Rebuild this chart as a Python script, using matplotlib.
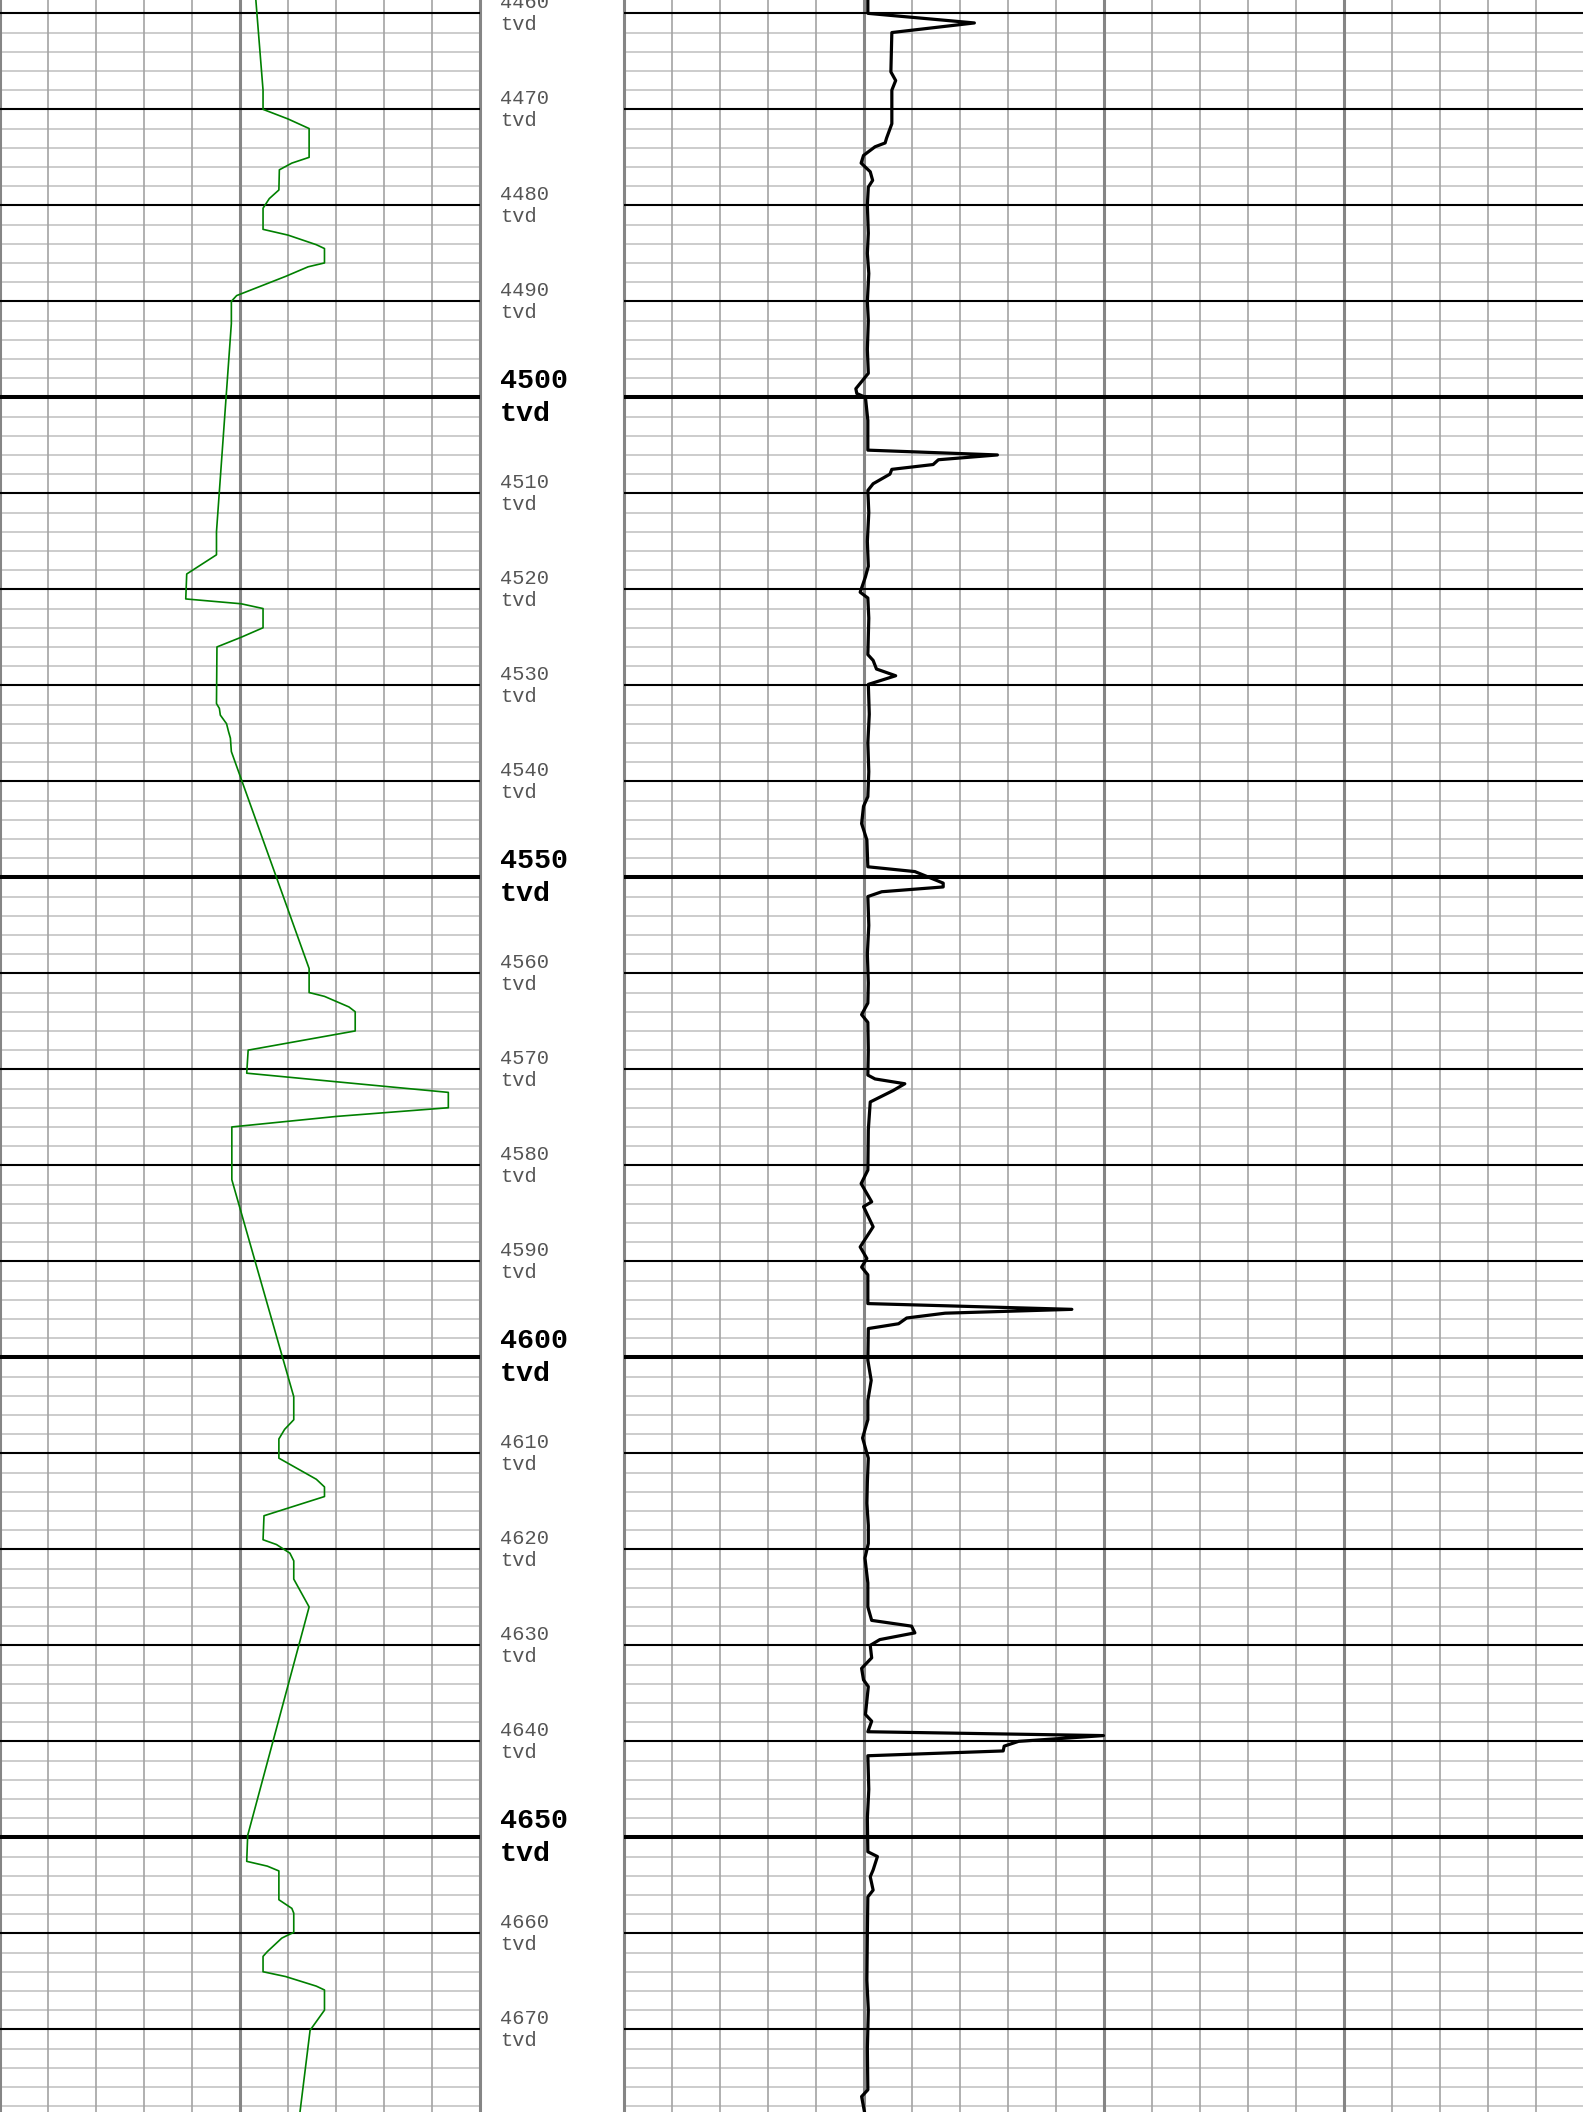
import numpy as np
import matplotlib
matplotlib.use('Agg')
import matplotlib.pyplot as plt

# green curve, left track (value in chart divisions, 0-10)
gr_depth = [4458.6, 4468.0, 4470.0, 4471.0, 4472.0, 4475.0, 4475.6, 4476.3, 4478.4, 4479.3,
            4480.3, 4482.5, 4483.1, 4484.1, 4484.5, 4486.0, 4486.4, 4487.4, 4489.4, 4490.0,
            4492.3, 4514.0, 4516.4, 4518.4, 4521.0, 4521.5, 4522.0, 4524.0, 4525.0, 4526.0,
            4531.9, 4532.4, 4533.1, 4534.0, 4534.8, 4535.5, 4536.9, 4559.5, 4562.0, 4562.4,
            4563.5, 4564.0, 4566.0, 4568.0, 4570.4, 4571.3, 4572.4, 4574.0, 4574.9, 4576.0,
            4581.5, 4604.1, 4606.5, 4607.5, 4608.5, 4610.5, 4612.7, 4613.5, 4614.5, 4616.5,
            4619.0, 4619.5, 4620.4, 4621.2, 4623.1, 4626.0, 4649.8, 4652.5, 4653.0, 4653.5,
            4656.5, 4657.4, 4657.9, 4659.9, 4660.3, 4660.5, 4661.9, 4662.4, 4664.0, 4664.5,
            4665.5, 4665.9, 4668.0, 4670.1, 4678.6]
gr_value = [5.33, 5.48, 5.48, 6.00, 6.44, 6.44, 6.08, 5.82, 5.81, 5.61,
            5.48, 5.48, 6.00, 6.59, 6.76, 6.76, 6.42, 5.95, 4.93, 4.82,
            4.82, 4.51, 4.51, 3.89, 3.87, 5.02, 5.48, 5.48, 5.02, 4.52,
            4.51, 4.57, 4.59, 4.72, 4.76, 4.80, 4.82, 6.44, 6.44, 6.76,
            7.27, 7.40, 7.40, 5.17, 5.14, 7.02, 9.34, 9.34, 7.02, 4.83,
            4.83, 6.12, 6.12, 5.93, 5.81, 5.81, 6.59, 6.76, 6.76, 5.50,
            5.48, 5.76, 6.04, 6.12, 6.12, 6.44, 5.16, 5.14, 5.57, 5.81,
            5.81, 6.08, 6.12, 6.12, 5.95, 5.87, 5.57, 5.48, 5.48, 5.95,
            6.59, 6.76, 6.76, 6.46, 6.25]

# black curve, right track (value in chart divisions, 0-20)
res_depth = [4458.6, 4460.0, 4461.0, 4462.0, 4466.1, 4467.0, 4468.0, 4471.5, 4473.0, 4473.5,
             4473.9, 4474.8, 4475.6, 4476.5, 4477.4, 4478.1, 4480.0, 4482.9, 4485.0, 4487.1,
             4490.0, 4492.0, 4495.0, 4497.5, 4499.1, 4499.6, 4500.0, 4502.4, 4505.5, 4506.0,
             4506.5, 4507.0, 4507.5, 4508.0, 4509.0, 4509.7, 4512.0, 4515.0, 4517.6, 4518.7,
             4520.3, 4520.9, 4523.0, 4526.8, 4527.4, 4528.3, 4529.0, 4529.9, 4533.0, 4536.0,
             4539.0, 4541.6, 4542.6, 4544.4, 4546.1, 4548.9, 4549.4, 4550.6, 4551.0, 4551.5,
             4552.0, 4555.0, 4558.0, 4561.0, 4563.1, 4564.3, 4565.1, 4568.0, 4570.6, 4571.0,
             4571.5, 4572.2, 4573.4, 4576.3, 4580.5, 4581.9, 4583.8, 4584.3, 4586.4, 4588.5,
             4589.7, 4590.6, 4591.4, 4594.4, 4595.0, 4595.4, 4595.9, 4596.5, 4597.0, 4600.3,
             4602.4, 4604.5, 4606.5, 4608.4, 4610.5, 4613.0, 4615.2, 4617.5, 4619.4, 4620.9,
             4623.5, 4626.0, 4627.4, 4628.0, 4628.7, 4629.4, 4630.0, 4631.3, 4632.4, 4633.6,
             4634.3, 4637.2, 4637.9, 4639.0, 4639.4, 4640.0, 4640.5, 4641.0, 4641.5, 4645.0,
             4648.0, 4651.5, 4652.0, 4653.4, 4654.1, 4655.5, 4656.2, 4660.0, 4664.9, 4668.0,
             4672.0, 4676.3, 4677.0, 4678.6]
res_value = [5.08, 5.08, 7.30, 5.58, 5.56, 5.66, 5.58, 5.58, 5.47, 5.44,
             5.23, 4.99, 4.94, 5.13, 5.18, 5.09, 5.07, 5.09, 5.07, 5.10,
             5.07, 5.09, 5.07, 5.09, 4.83, 4.85, 5.03, 5.08, 5.08, 7.78,
             6.55, 6.44, 5.58, 5.54, 5.19, 5.08, 5.10, 5.07, 5.09, 5.03,
             4.92, 5.08, 5.10, 5.08, 5.19, 5.26, 5.66, 5.09, 5.11, 5.08,
             5.10, 5.08, 4.99, 4.95, 5.06, 5.08, 6.06, 6.65, 6.65, 5.37,
             5.08, 5.10, 5.07, 5.09, 5.08, 4.95, 5.08, 5.09, 5.08, 5.23,
             5.85, 5.61, 5.13, 5.09, 5.08, 4.94, 5.16, 4.99, 5.19, 4.92,
             5.06, 4.95, 5.08, 5.08, 9.33, 6.69, 5.89, 5.72, 5.09, 5.08,
             5.15, 5.08, 5.08, 4.97, 5.09, 5.07, 5.06, 5.09, 5.09, 5.02,
             5.08, 5.08, 5.16, 5.99, 6.06, 5.33, 5.13, 5.16, 4.95, 4.99,
             5.09, 5.03, 5.16, 5.08, 9.99, 8.22, 7.92, 7.90, 5.08, 5.10,
             5.07, 5.08, 5.28, 5.19, 5.13, 5.19, 5.08, 5.07, 5.06, 5.09,
             5.07, 5.08, 4.95, 5.01]

top, bottom = 4458.61, 4678.61
W, H = 1583, 2112

fig = plt.figure(figsize=(W / 100, H / 100), dpi=100)
ax_gr = fig.add_axes([0, 0, 480 / W, 1])
ax_dep = fig.add_axes([480 / W, 0, 144 / W, 1])
ax_res = fig.add_axes([624 / W, 0, 960 / W, 1])


def draw_grid(ax, ndiv):
    ax.set_xlim(0, ndiv)
    ax.set_ylim(bottom, top)
    ax.axis('off')
    for d in range(4458, 4680, 2):
        if d % 50 == 0:
            ax.axhline(d, color='black', lw=2.9, zorder=3)
        elif d % 10 == 0:
            ax.axhline(d, color='black', lw=1.5, zorder=3)
        else:
            ax.axhline(d, color='#cccccc', lw=1.4, zorder=1)
    for i in range(0, ndiv + 1):
        if i % 5 == 0:
            ax.axvline(i, color='#858585', lw=2.2, zorder=2, clip_on=False)
        else:
            ax.axvline(i, color='#a3a3a3', lw=1.2, zorder=2)


draw_grid(ax_gr, 10)
draw_grid(ax_res, 20)

ax_gr.plot(gr_value, gr_depth, color='green', lw=1.2, zorder=5)
ax_res.plot(res_value, res_depth, color='black', lw=2.3, zorder=5)

ax_dep.set_xlim(0, 1)
ax_dep.set_ylim(bottom, top)
ax_dep.axis('off')
for d in range(4460, 4680, 10):
    if d % 50 == 0:
        ax_dep.text(0.14, d, f"{d}\ntvd", family='Liberation Mono', fontsize=20.4,
                    fontweight='bold', color='black', va='center', ha='left', linespacing=1.32)
    else:
        ax_dep.text(0.14, d, f"{d}\ntvd", family='Liberation Mono', fontsize=14.7,
                    color='#555555', va='center', ha='left', linespacing=1.22)

fig.savefig('out.png', dpi=100)
